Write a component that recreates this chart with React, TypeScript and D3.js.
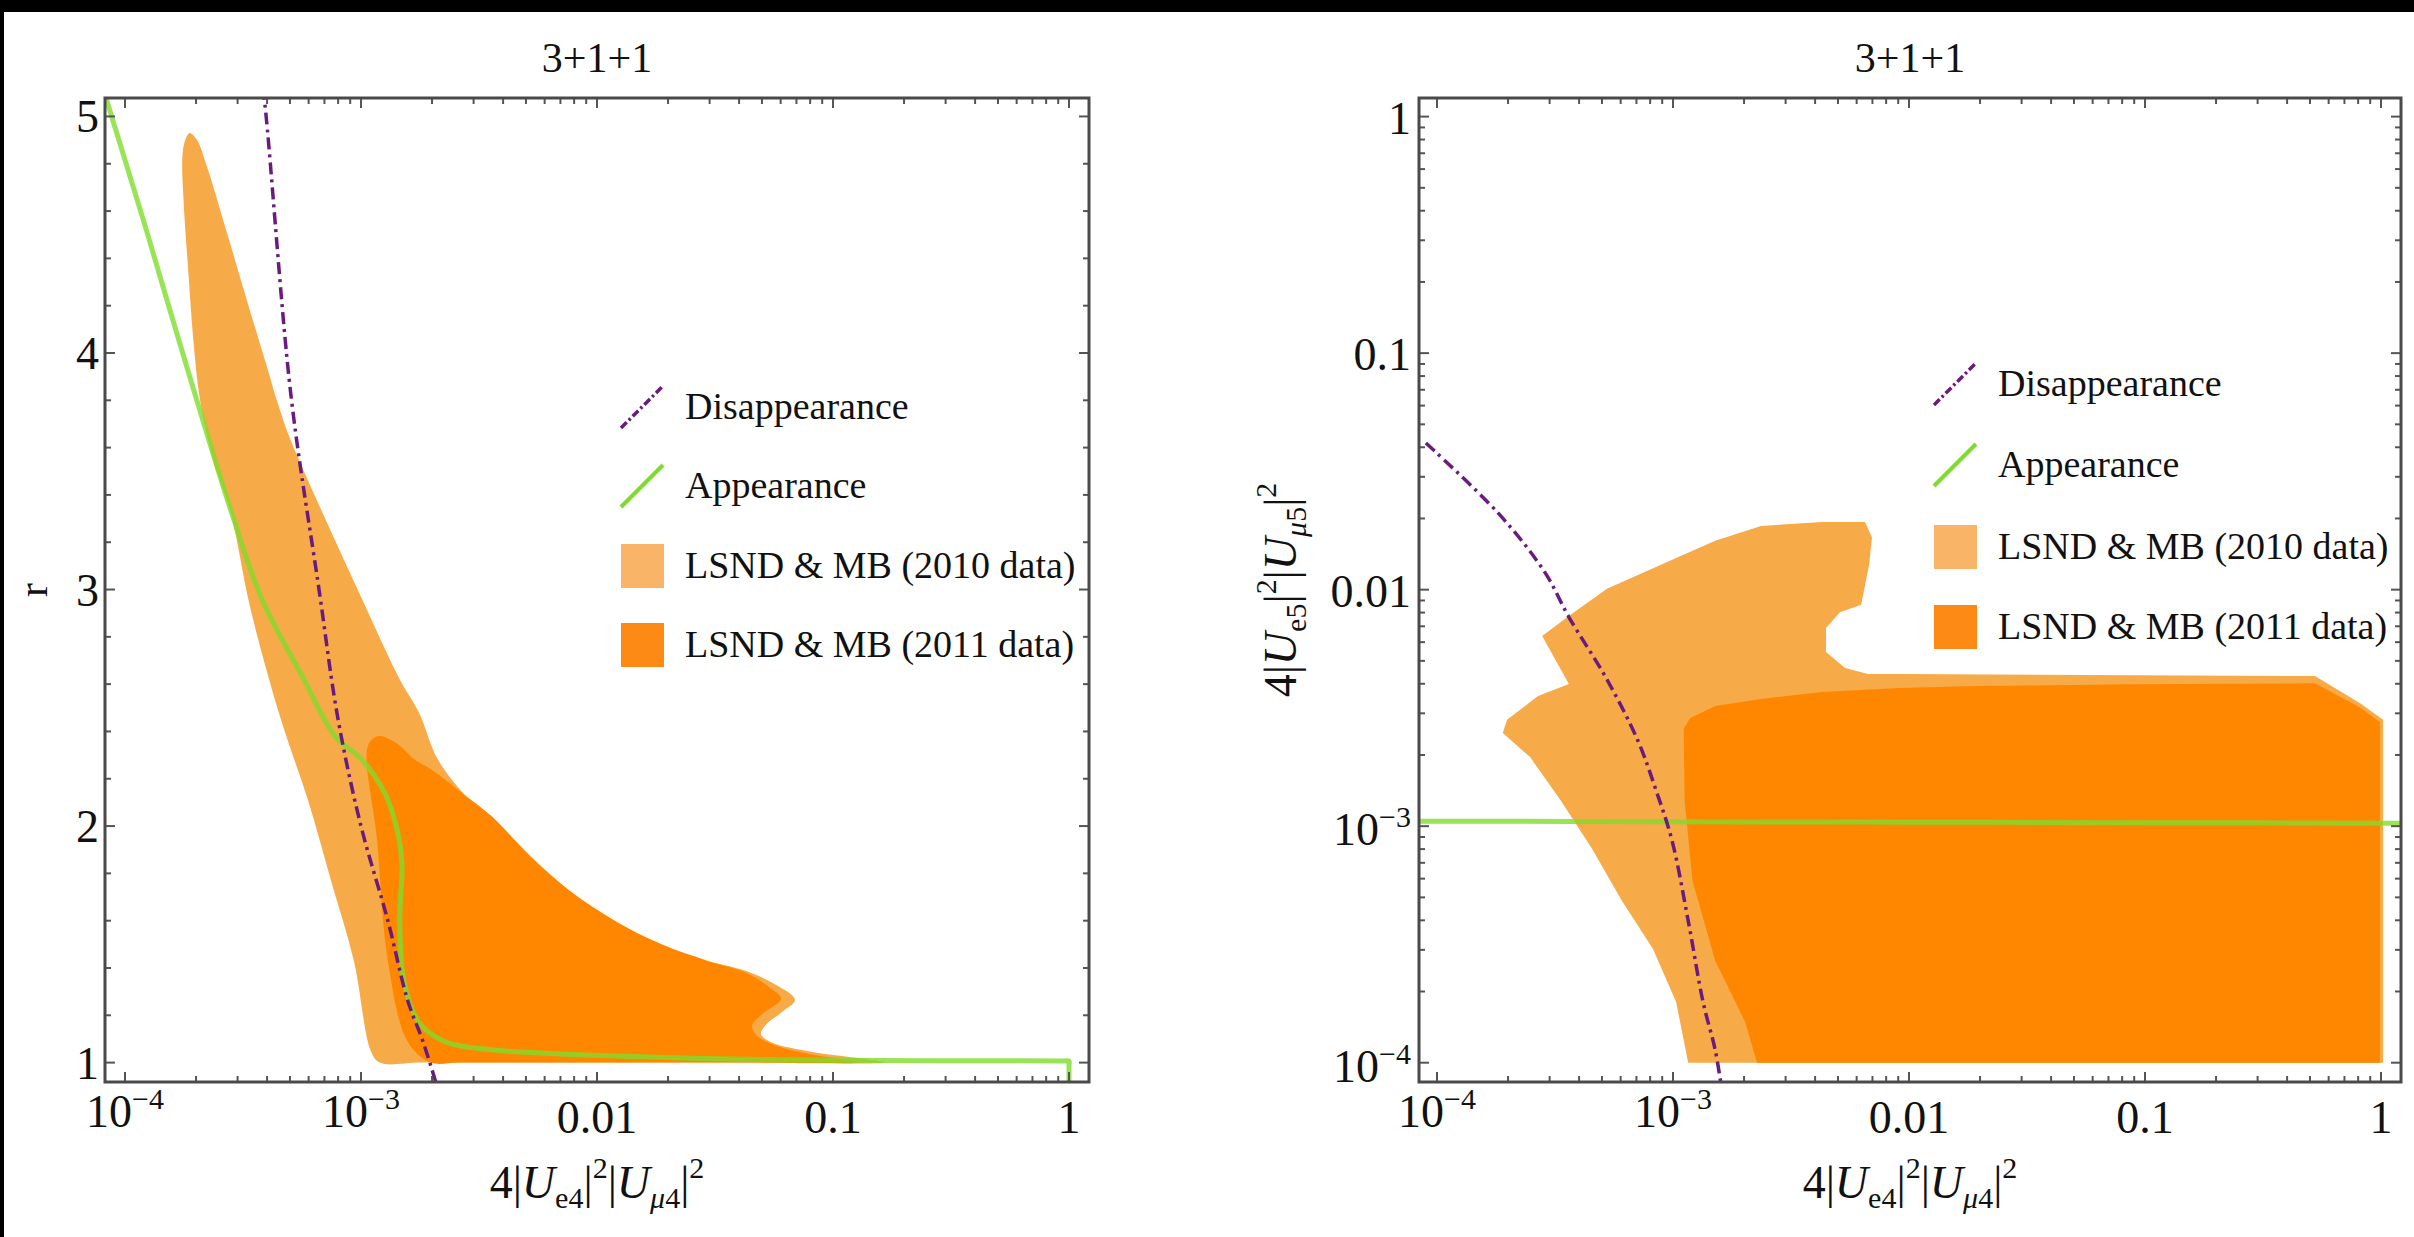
import React from 'react';
import * as d3 from 'd3';

type Pt = [number, number];

const FONT = "'Liberation Serif', 'Times New Roman', serif";
const W = 2414;
const H = 1237;

// ---- left panel: r against 4|Ue4|^2|Uμ4|^2 ----
const leftDisappearance: Pt[] = [
  [3.8e-4, 5.12], [3.88e-4, 5.08], [5.05e-4, 3.82], [6.64e-4, 3.0], [8.0e-4, 2.45],
  [1.0e-3, 2.0], [1.3e-3, 1.6], [1.58e-3, 1.26], [1.83e-3, 1.09], [2.1e-3, 0.9],
];

const leftAppearance: Pt[] = [
  [8.3e-5, 5.08], [1.07e-4, 4.72], [1.24e-4, 4.51], [1.51e-4, 4.22], [1.83e-4, 3.94],
  [2.27e-4, 3.63], [2.84e-4, 3.32], [3.8e-4, 2.96], [5.73e-4, 2.62], [7.76e-4, 2.38],
  [1.01e-3, 2.28], [1.26e-3, 2.14], [1.41e-3, 2.0], [1.49e-3, 1.85], [1.46e-3, 1.6],
  [1.52e-3, 1.345], [1.76e-3, 1.17], [2.29e-3, 1.087], [3.59e-3, 1.054], [6e-3, 1.04],
  [1.19e-2, 1.028], [2.5e-2, 1.018], [7.24e-2, 1.011], [0.15, 1.009], [0.4, 1.008],
  [0.95, 1.007], [1, 1.0065], [1, 0.99], [1, 0.918],
];

const leftRegion2010: Pt[] = [
  [1.88e-4, 4.93], [2.02e-4, 4.9], [2.22e-4, 4.79], [2.7e-4, 4.51], [3.29e-4, 4.22],
  [4.0e-4, 3.94], [4.4e-4, 3.8], [4.95e-4, 3.65], [6.9e-4, 3.32], [1.01e-3, 2.96],
  [1.46e-3, 2.62], [1.76e-3, 2.48], [2.12e-3, 2.28], [2.87e-3, 2.11], [3.88e-3, 1.97],
  [5.62e-3, 1.8], [8.89e-3, 1.63], [1.49e-2, 1.5], [2.36e-2, 1.45], [4.2e-2, 1.39],
  [5.7e-2, 1.33], [6.9e-2, 1.265], [6.1e-2, 1.215], [5.2e-2, 1.16], [4.95e-2, 1.12],
  [5.5e-2, 1.085], [8.2e-2, 1.045], [0.125, 1.02], [0.165, 1.0], [0.05, 1.0],
  [1.5e-2, 1.0], [4.5e-3, 1.0], [1.8e-3, 1.0], [1.2e-3, 1.0], [1.1e-3, 1.05],
  [9.33e-4, 1.43], [7.46e-4, 1.77], [5.96e-4, 2.11], [4.58e-4, 2.45], [3.4e-4, 2.92],
  [2.81e-4, 3.32], [2.36e-4, 3.55], [2.08e-4, 3.8], [1.95e-4, 4.05], [1.85e-4, 4.36],
  [1.77e-4, 4.65], [1.75e-4, 4.83], [1.8e-4, 4.9],
];

const leftRegion2011: Pt[] = [
  [1.07e-3, 2.34], [1.18e-3, 2.38], [1.39e-3, 2.355], [1.69e-3, 2.28], [1.98e-3, 2.24],
  [2.68e-3, 2.14], [3.59e-3, 2.04], [5.25e-3, 1.87], [7.6e-3, 1.73], [1.19e-2, 1.6],
  [1.88e-2, 1.5], [2.95e-2, 1.43], [4.28e-2, 1.38], [5.35e-2, 1.32], [6.03e-2, 1.27],
  [5.0e-2, 1.205], [4.54e-2, 1.155], [4.81e-2, 1.11], [5.79e-2, 1.07], [7.83e-2, 1.037],
  [0.1135, 1.01], [0.13, 1.0], [4.5e-2, 1.0], [1.5e-2, 1.0], [5e-3, 1.0],
  [2.6e-3, 1.0], [1.98e-3, 1.0], [1.58e-3, 1.087], [1.3e-3, 1.43], [1.17e-3, 1.94],
];

// ---- right panel: 4|Ue5|^2|Uμ5|^2 against 4|Ue4|^2|Uμ4|^2 ----
const rightDisappearance: Pt[] = [
  [8.97e-5, 4.17e-2], [1.83e-4, 2.09e-2], [2.87e-4, 1.18e-2], [3.62e-4, 7.66e-3],
  [5.25e-4, 4.17e-3], [7.11e-4, 2.29e-3], [8.47e-4, 1.42e-3], [9.91e-4, 8.67e-4],
  [1.16e-3, 3.98e-4], [1.34e-3, 1.81e-4], [1.51e-3, 1.13e-4], [1.6e-3, 8.0e-5],
];

const rightAppearance: Pt[] = [
  [8.3e-5, 1.05e-3], [1e-3, 1.045e-3], [1e-2, 1.04e-3], [0.1, 1.035e-3], [1.22, 1.03e-3],
];

const rightRegion2010: Pt[] = [
  [5.25e-4, 1.01e-2], [9.6e-4, 1.32e-2], [1.51e-3, 1.61e-2], [2.36e-3, 1.86e-2],
  [4.28e-3, 1.93e-2], [6.51e-3, 1.93e-2], [6.97e-3, 1.66e-2], [6.77e-3, 1.27e-2],
  [6.27e-3, 8.63e-3], [5.1e-3, 8.03e-3], [4.45e-3, 6.88e-3], [4.45e-3, 5.45e-3],
  [5.36e-3, 4.66e-3], [6.7e-3, 4.4e-3], [9.16e-3, 4.4e-3], [0.525, 4.31e-3],
  [0.822, 3.29e-3], [1.02, 2.82e-3], [1.02, 1e-4], [1.16e-3, 1e-4],
  [1.03e-3, 1.81e-4], [8.22e-4, 3.03e-4], [6.08e-4, 4.83e-4], [4.54e-4, 8.02e-4],
  [3.35e-4, 1.28e-3], [2.48e-4, 1.96e-3], [1.9e-4, 2.48e-3], [1.98e-4, 2.82e-3],
  [2.68e-4, 3.55e-3], [3.62e-4, 3.99e-3], [2.79e-4, 6.37e-3], [3.62e-4, 7.74e-3],
];

const rightRegion2011: Pt[] = [
  [2.27e-3, 1e-4], [2.02e-3, 1.49e-4], [1.51e-3, 2.69e-4], [1.21e-3, 5.86e-4],
  [1.12e-3, 1.28e-3], [1.11e-3, 2.58e-3], [1.18e-3, 2.86e-3], [1.51e-3, 3.22e-3],
  [2.36e-3, 3.45e-3], [4.28e-3, 3.69e-3], [9.08e-3, 3.84e-3], [1.92e-2, 3.91e-3],
  [8.63e-2, 3.98e-3], [0.525, 4.02e-3], [0.822, 3.16e-3], [0.99, 2.75e-3], [0.99, 1e-4],
];

// ---- ticks and labels ----
const logTickValues = [1e-4, 1e-3, 1e-2, 1e-1, 1];
const logTickLabels = [['10', '−4'], ['10', '−3'], ['0.01'], ['0.1'], ['1']];
const rTickValues = [1, 2, 3, 4, 5];
const rTickLabels = ['1', '2', '3', '4', '5'];
const legendLabels = ['Disappearance', 'Appearance', 'LSND & MB (2010 data)', 'LSND & MB (2011 data)'];
const panelTitle = '3+1+1';

const C = {
  light: '#F7AA48',
  dark: '#FF8700',
  lightKey: '#F9B467',
  darkKey: '#FC8A14',
  purple: '#6A1B7F',
  green: '#80DC2C',
  frame: '#4a4a4a',
  text: '#111',
};

const TOP = 98;
const BOTTOM = 1082;

const isDecade = (v: number) => Math.abs(Math.log10(v) - Math.round(Math.log10(v))) < 1e-6;

function MixLabel({ a, m, x, y, rotate }: { a: string; m: string; x: number; y: number; rotate?: boolean }) {
  const ss = 30, d = 10, u = 20;
  return (
    <text
      transform={`translate(${x},${y})${rotate ? ' rotate(-90)' : ''}`}
      textAnchor="middle"
      fontSize={46}
      fill={C.text}
    >
      4|<tspan fontStyle="italic">U</tspan>
      <tspan fontSize={ss} dy={d}>{a}</tspan>
      <tspan dy={-d}>|</tspan>
      <tspan fontSize={ss} dy={-u}>2</tspan>
      <tspan dy={u}>|</tspan>
      <tspan fontStyle="italic">U</tspan>
      <tspan fontSize={ss} dy={d} fontStyle="italic">μ</tspan>
      <tspan fontSize={ss}>{m}</tspan>
      <tspan dy={-d}>|</tspan>
      <tspan fontSize={ss} dy={-u}>2</tspan>
    </text>
  );
}

function Panel({ id, x, y, yLog, smooth, disappearance, appearance, region2010, region2011, legendX, legendY, yLabel }: any) {
  const [x0, x1] = x.range();
  const cx = (x0 + x1) / 2;
  const region = d3.line<Pt>().x(d => x(d[0])).y(d => y(d[1]))
    .curve(smooth ? d3.curveCatmullRomClosed.alpha(0.5) : d3.curveLinearClosed);
  const curve = d3.line<Pt>().x(d => x(d[0])).y(d => y(d[1])).curve(d3.curveCatmullRom.alpha(0.5));

  const xt = x.ticks().filter((v: number) => v >= 0.99e-4 && v <= 1.001);
  const yt = yLog
    ? y.ticks().filter((v: number) => v >= 0.99e-4 && v <= 1.001)
    : y.ticks(20);
  const yMajor = (v: number) => (yLog ? isDecade(v) : Math.abs(v - Math.round(v)) < 1e-6);

  return (
    <g>
      <defs>
        <clipPath id={`clip-${id}`}>
          <rect x={x0} y={TOP} width={x1 - x0} height={BOTTOM - TOP} />
        </clipPath>
      </defs>

      <text x={cx} y={72} textAnchor="middle" fontSize={42} fill={C.text}>{panelTitle}</text>

      <g clipPath={`url(#clip-${id})`}>
        <path d={region(region2010) as string} fill={C.light} />
        <path d={region(region2011) as string} fill={C.dark} />
        <path d={curve(appearance) as string} fill="none" stroke={C.green} strokeWidth={5} strokeOpacity={0.8} />
        <path d={curve(disappearance) as string} fill="none" stroke={C.purple} strokeWidth={3.5}
          strokeDasharray="12,5,3,5" />
      </g>

      {/* frame ticks, all four sides, pointing in */}
      {xt.map((v: number) => {
        const L = isDecade(v) ? 10 : 6;
        const px = x(v);
        return (
          <g key={`xt${v}`} stroke="#555" strokeWidth={2}>
            <line x1={px} x2={px} y1={BOTTOM} y2={BOTTOM - L} />
            <line x1={px} x2={px} y1={TOP} y2={TOP + L} />
          </g>
        );
      })}
      {yt.map((v: number) => {
        const L = yMajor(v) ? 10 : 6;
        const py = y(v);
        return (
          <g key={`yt${v}`} stroke="#555" strokeWidth={2}>
            <line x1={x0} x2={x0 + L} y1={py} y2={py} />
            <line x1={x1} x2={x1 - L} y1={py} y2={py} />
          </g>
        );
      })}
      <rect x={x0} y={TOP} width={x1 - x0} height={BOTTOM - TOP} fill="none" stroke={C.frame} strokeWidth={3} />

      {logTickValues.map((v, i) => {
        const parts = logTickLabels[i];
        return (
          <text key={`xl${v}`} x={x(v)} y={parts.length > 1 ? 1127 : 1133} textAnchor="middle" fontSize={46} fill={C.text}>
            {parts[0]}
            {parts.length > 1 && <tspan fontSize={30} dy={-18}>{parts[1]}</tspan>}
          </text>
        );
      })}

      {yLog
        ? logTickValues.map((v, i) => {
            const parts = logTickLabels[i];
            return (
              <text key={`yl${v}`} x={x0 - 8} y={y(v) + (parts.length > 1 ? 19 : 17)} textAnchor="end" fontSize={46} fill={C.text}>
                {parts[0]}
                {parts.length > 1 && <tspan fontSize={30} dy={-18}>{parts[1]}</tspan>}
              </text>
            );
          })
        : rTickValues.map((v, i) => (
            <text key={`yl${v}`} x={x0 - 6} y={y(v) + 16} textAnchor="end" fontSize={46} fill={C.text}>
              {rTickLabels[i]}
            </text>
          ))}

      <MixLabel a="e4" m="4" x={cx} y={1198} />
      {yLabel}

      {legendLabels.map((label, i) => {
        const cy = legendY[i];
        let icon;
        if (i === 0) {
          icon = <line x1={legendX} y1={cy + 21} x2={legendX + 42} y2={cy - 21} stroke={C.purple} strokeWidth={3.5} strokeDasharray="8,3,2.5,3" />;
        } else if (i === 1) {
          icon = <line x1={legendX} y1={cy + 21} x2={legendX + 42} y2={cy - 21} stroke={C.green} strokeWidth={4} />;
        } else {
          icon = <rect x={legendX} y={cy - 22} width={43} height={44} fill={i === 2 ? C.lightKey : C.darkKey} />;
        }
        return (
          <g key={label}>
            {icon}
            <text x={legendX + 64} y={cy + 12} fontSize={38} fill={C.text}>{label}</text>
          </g>
        );
      })}
    </g>
  );
}

export default function App() {
  const xLeft = d3.scaleLog().domain([10 ** -4.0847, 10 ** 0.0847]).range([105, 1089]);
  const yLeft = d3.scaleLinear().domain([0.918, 5.078]).range([BOTTOM, TOP]);
  const xRight = d3.scaleLog().domain([10 ** -4.0763, 10 ** 0.0847]).range([1419, 2401]);
  const yRight = d3.scaleLog().domain([10 ** -4.0816, 10 ** 0.0787]).range([BOTTOM, TOP]);

  return (
    <svg width={W} height={H} style={{ position: 'absolute', left: 0, top: 0, display: 'block' }} fontFamily={FONT}>
      <rect width={W} height={H} fill="#000" />
      <rect x={4} y={12} width={W - 4} height={H - 12} fill="#fff" />

      <Panel
        id="left"
        x={xLeft}
        y={yLeft}
        yLog={false}
        smooth={true}
        disappearance={leftDisappearance}
        appearance={leftAppearance}
        region2010={leftRegion2010}
        region2011={leftRegion2011}
        legendX={621}
        legendY={[407, 486, 566, 645]}
        yLabel={
          <text transform="translate(47,590) rotate(-90)" textAnchor="middle" fontSize={42} fill={C.text}>r</text>
        }
      />
      <Panel
        id="right"
        x={xRight}
        y={yRight}
        yLog={true}
        smooth={false}
        disappearance={rightDisappearance}
        appearance={rightAppearance}
        region2010={rightRegion2010}
        region2011={rightRegion2011}
        legendX={1934}
        legendY={[384, 465, 547, 627]}
        yLabel={<MixLabel a="e5" m="5" x={1296} y={590} rotate />}
      />
    </svg>
  );
}
